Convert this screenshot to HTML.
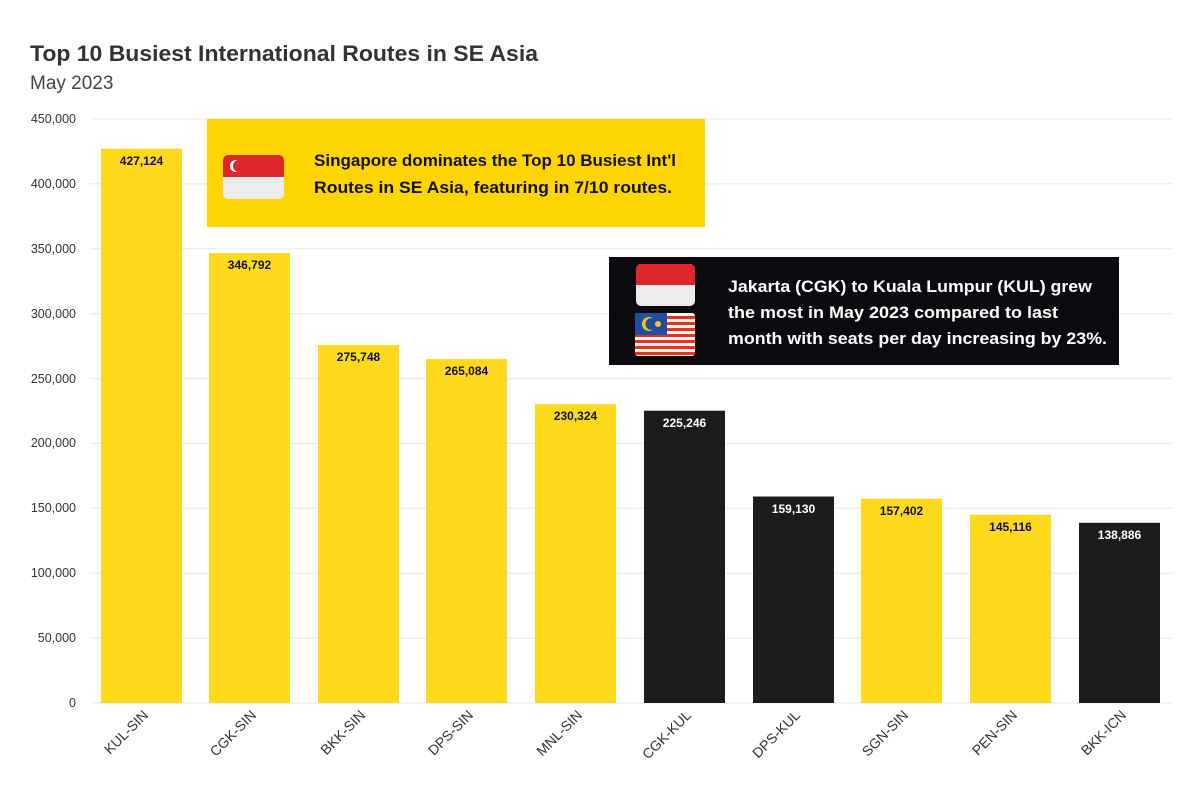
<!DOCTYPE html>
<html><head><meta charset="utf-8"><style>
body{margin:0;background:#fff;}
svg text{font-family:"Liberation Sans",sans-serif;}
</style></head><body>
<svg width="1200" height="800" xmlns="http://www.w3.org/2000/svg">
<rect width="1200" height="800" fill="#fff"/>
<text x="30" y="61" font-size="22" font-weight="bold" fill="#333" textLength="508" lengthAdjust="spacingAndGlyphs">Top 10 Busiest International Routes in SE Asia</text>
<text x="30" y="89" font-size="19" fill="#444">May 2023</text>
<g stroke="#e8e8e8" stroke-width="1">
<line x1="90" x2="1172" y1="119" y2="119"/><line x1="90" x2="1172" y1="183.9" y2="183.9"/>
<line x1="90" x2="1172" y1="248.8" y2="248.8"/><line x1="90" x2="1172" y1="313.7" y2="313.7"/>
<line x1="90" x2="1172" y1="378.6" y2="378.6"/><line x1="90" x2="1172" y1="443.4" y2="443.4"/>
<line x1="90" x2="1172" y1="508.3" y2="508.3"/><line x1="90" x2="1172" y1="573.2" y2="573.2"/>
<line x1="90" x2="1172" y1="638.1" y2="638.1"/><line x1="90" x2="1172" y1="703" y2="703"/>
</g>
<g font-size="12.5" fill="#333" text-anchor="end">
<text x="76" y="123">450,000</text><text x="76" y="188">400,000</text><text x="76" y="253">350,000</text>
<text x="76" y="318">300,000</text><text x="76" y="383">250,000</text><text x="76" y="447">200,000</text>
<text x="76" y="512">150,000</text><text x="76" y="577">100,000</text><text x="76" y="642">50,000</text>
<text x="76" y="707">0</text>
</g>
<g>
<rect x="101" y="148.7" width="81" height="554.3" fill="#FFD91C"/>
<rect x="209" y="253" width="81" height="450" fill="#FFD91C"/>
<rect x="318" y="345.1" width="81" height="357.9" fill="#FFD91C"/>
<rect x="426" y="359" width="81" height="344" fill="#FFD91C"/>
<rect x="535" y="404.1" width="81" height="298.9" fill="#FFD91C"/>
<rect x="644" y="410.7" width="81" height="292.3" fill="#1c1c1c"/>
<rect x="753" y="496.5" width="81" height="206.5" fill="#1c1c1c"/>
<rect x="861" y="498.7" width="81" height="204.3" fill="#FFD91C"/>
<rect x="970" y="514.7" width="81" height="188.3" fill="#FFD91C"/>
<rect x="1079" y="522.8" width="81" height="180.2" fill="#1c1c1c"/>
</g>
<g font-size="12" font-weight="bold" text-anchor="middle">
<text x="141.5" y="165" fill="#111">427,124</text>
<text x="249.5" y="269" fill="#111">346,792</text>
<text x="358.5" y="361" fill="#111">275,748</text>
<text x="466.5" y="375" fill="#111">265,084</text>
<text x="575.5" y="420" fill="#111">230,324</text>
<text x="684.5" y="427" fill="#fff">225,246</text>
<text x="793.5" y="513" fill="#fff">159,130</text>
<text x="901.5" y="515" fill="#111">157,402</text>
<text x="1010.5" y="531" fill="#111">145,116</text>
<text x="1119.5" y="539" fill="#fff">138,886</text>
</g>
<g font-size="14" fill="#333" text-anchor="end">
<text transform="translate(149,716) rotate(-45)">KUL-SIN</text>
<text transform="translate(257,716) rotate(-45)">CGK-SIN</text>
<text transform="translate(366,716) rotate(-45)">BKK-SIN</text>
<text transform="translate(474,716) rotate(-45)">DPS-SIN</text>
<text transform="translate(583,716) rotate(-45)">MNL-SIN</text>
<text transform="translate(692,716) rotate(-45)">CGK-KUL</text>
<text transform="translate(801,716) rotate(-45)">DPS-KUL</text>
<text transform="translate(909,716) rotate(-45)">SGN-SIN</text>
<text transform="translate(1018,716) rotate(-45)">PEN-SIN</text>
<text transform="translate(1127,716) rotate(-45)">BKK-ICN</text>
</g>
<rect x="207" y="119" width="498" height="108" fill="#FFD500"/>
<rect x="223" y="155" width="61" height="44" rx="5" fill="#ececec"/>
<path d="M223,177 V160 a5,5 0 0 1 5,-5 H279 a5,5 0 0 1 5,5 V177 Z" fill="#e0262d"/>
<circle cx="236" cy="166" r="6" fill="#fff"/><circle cx="239" cy="166" r="6" fill="#e0262d"/>
<text x="314" y="166" font-size="16.5" font-weight="bold" fill="#111" textLength="362" lengthAdjust="spacingAndGlyphs">Singapore dominates the Top 10 Busiest Int'l</text>
<text x="314" y="193" font-size="16.5" font-weight="bold" fill="#111" textLength="358" lengthAdjust="spacingAndGlyphs">Routes in SE Asia, featuring in 7/10 routes.</text>
<rect x="609" y="257" width="510" height="108" fill="#0b0b0f"/>
<rect x="636" y="264" width="59" height="42" rx="5" fill="#ececec"/>
<path d="M636,285 V269 a5,5 0 0 1 5,-5 H690 a5,5 0 0 1 5,5 V285 Z" fill="#e0262d"/>
<rect x="635" y="313" width="60" height="43" rx="3" fill="#f4f4f4"/>
<g fill="#e8321e">
<rect x="635" y="316" width="60" height="3"/><rect x="635" y="322" width="60" height="3"/>
<rect x="635" y="328" width="60" height="3"/><rect x="635" y="334" width="60" height="3"/>
<rect x="635" y="340" width="60" height="3"/><rect x="635" y="346" width="60" height="3"/>
<rect x="635" y="352" width="60" height="3"/>
</g>
<rect x="635" y="313" width="32" height="22" fill="#1f4fa0"/>
<circle cx="649" cy="324" r="7" fill="#f5c518"/><circle cx="651.5" cy="324" r="6" fill="#1f4fa0"/>
<circle cx="658" cy="324" r="3" fill="#f5c518"/>
<text x="728" y="292" font-size="16.5" font-weight="bold" fill="#fff" textLength="364" lengthAdjust="spacingAndGlyphs">Jakarta (CGK) to Kuala Lumpur (KUL) grew</text>
<text x="728" y="318" font-size="16.5" font-weight="bold" fill="#fff" textLength="330" lengthAdjust="spacingAndGlyphs">the most in May 2023 compared to last</text>
<text x="728" y="344" font-size="16.5" font-weight="bold" fill="#fff" textLength="379" lengthAdjust="spacingAndGlyphs">month with seats per day increasing by 23%.</text>
</svg>
</body></html>
